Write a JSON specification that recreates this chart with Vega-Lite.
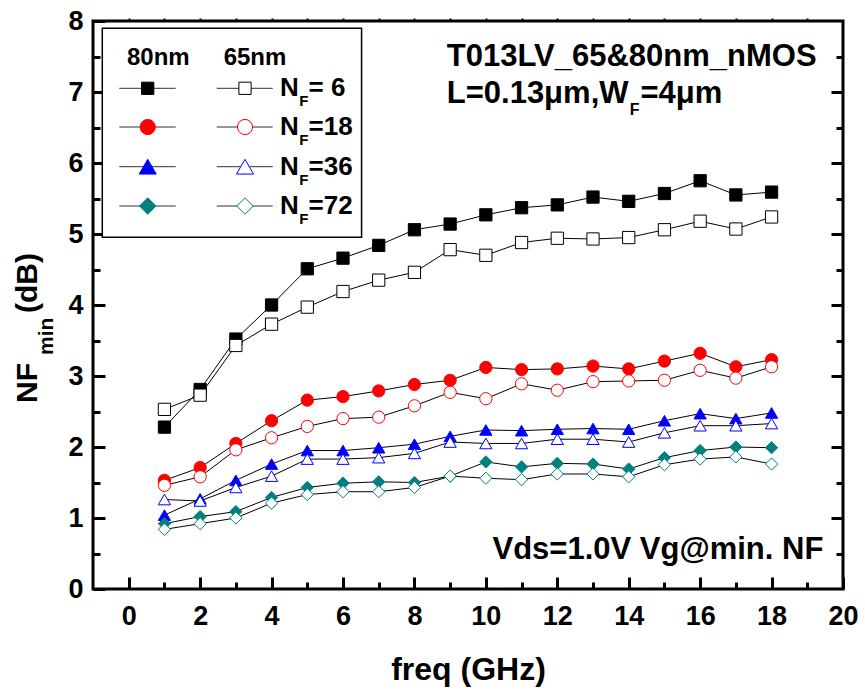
{
"$schema": "https://vega.github.io/schema/vega-lite/v6.json",
"width": 750, "height": 568,
"autosize": {"type": "none"},
"padding": {"left": 93, "top": 21, "right": 22, "bottom": 104},
"background": "white",
"config": {
  "view": {"stroke": "black", "strokeWidth": 3},
  "axis": {"domain": false, "grid": false, "tickColor": "black", "tickWidth": 3, "labelFont": "Liberation Sans", "labelFontWeight": "bold", "labelFontSize": 27, "labelColor": "black", "titleFont": "Liberation Sans", "titleFontWeight": "bold", "titleFontSize": 32, "titleColor": "black"},
  "text": {"font": "Liberation Sans", "fontWeight": "bold", "color": "black"}
},
"datasets": {
  "nf": [
    {"freq":1,"NFmin":2.28,"series":"80nm NF=6"},{"freq":2,"NFmin":2.81,"series":"80nm NF=6"},{"freq":3,"NFmin":3.52,"series":"80nm NF=6"},{"freq":4,"NFmin":4.00,"series":"80nm NF=6"},{"freq":5,"NFmin":4.51,"series":"80nm NF=6"},{"freq":6,"NFmin":4.66,"series":"80nm NF=6"},{"freq":7,"NFmin":4.84,"series":"80nm NF=6"},{"freq":8,"NFmin":5.06,"series":"80nm NF=6"},{"freq":9,"NFmin":5.14,"series":"80nm NF=6"},{"freq":10,"NFmin":5.27,"series":"80nm NF=6"},{"freq":11,"NFmin":5.37,"series":"80nm NF=6"},{"freq":12,"NFmin":5.41,"series":"80nm NF=6"},{"freq":13,"NFmin":5.52,"series":"80nm NF=6"},{"freq":14,"NFmin":5.46,"series":"80nm NF=6"},{"freq":15,"NFmin":5.57,"series":"80nm NF=6"},{"freq":16,"NFmin":5.75,"series":"80nm NF=6"},{"freq":17,"NFmin":5.55,"series":"80nm NF=6"},{"freq":18,"NFmin":5.59,"series":"80nm NF=6"},
    {"freq":1,"NFmin":2.53,"series":"65nm NF=6"},{"freq":2,"NFmin":2.73,"series":"65nm NF=6"},{"freq":3,"NFmin":3.43,"series":"65nm NF=6"},{"freq":4,"NFmin":3.73,"series":"65nm NF=6"},{"freq":5,"NFmin":3.97,"series":"65nm NF=6"},{"freq":6,"NFmin":4.19,"series":"65nm NF=6"},{"freq":7,"NFmin":4.35,"series":"65nm NF=6"},{"freq":8,"NFmin":4.46,"series":"65nm NF=6"},{"freq":9,"NFmin":4.78,"series":"65nm NF=6"},{"freq":10,"NFmin":4.70,"series":"65nm NF=6"},{"freq":11,"NFmin":4.88,"series":"65nm NF=6"},{"freq":12,"NFmin":4.94,"series":"65nm NF=6"},{"freq":13,"NFmin":4.93,"series":"65nm NF=6"},{"freq":14,"NFmin":4.95,"series":"65nm NF=6"},{"freq":15,"NFmin":5.06,"series":"65nm NF=6"},{"freq":16,"NFmin":5.18,"series":"65nm NF=6"},{"freq":17,"NFmin":5.07,"series":"65nm NF=6"},{"freq":18,"NFmin":5.24,"series":"65nm NF=6"},
    {"freq":1,"NFmin":1.53,"series":"80nm NF=18"},{"freq":2,"NFmin":1.71,"series":"80nm NF=18"},{"freq":3,"NFmin":2.05,"series":"80nm NF=18"},{"freq":4,"NFmin":2.37,"series":"80nm NF=18"},{"freq":5,"NFmin":2.66,"series":"80nm NF=18"},{"freq":6,"NFmin":2.71,"series":"80nm NF=18"},{"freq":7,"NFmin":2.79,"series":"80nm NF=18"},{"freq":8,"NFmin":2.88,"series":"80nm NF=18"},{"freq":9,"NFmin":2.94,"series":"80nm NF=18"},{"freq":10,"NFmin":3.12,"series":"80nm NF=18"},{"freq":11,"NFmin":3.09,"series":"80nm NF=18"},{"freq":12,"NFmin":3.10,"series":"80nm NF=18"},{"freq":13,"NFmin":3.14,"series":"80nm NF=18"},{"freq":14,"NFmin":3.10,"series":"80nm NF=18"},{"freq":15,"NFmin":3.21,"series":"80nm NF=18"},{"freq":16,"NFmin":3.32,"series":"80nm NF=18"},{"freq":17,"NFmin":3.13,"series":"80nm NF=18"},{"freq":18,"NFmin":3.23,"series":"80nm NF=18"},
    {"freq":1,"NFmin":1.46,"series":"65nm NF=18"},{"freq":2,"NFmin":1.58,"series":"65nm NF=18"},{"freq":3,"NFmin":1.96,"series":"65nm NF=18"},{"freq":4,"NFmin":2.13,"series":"65nm NF=18"},{"freq":5,"NFmin":2.29,"series":"65nm NF=18"},{"freq":6,"NFmin":2.40,"series":"65nm NF=18"},{"freq":7,"NFmin":2.42,"series":"65nm NF=18"},{"freq":8,"NFmin":2.58,"series":"65nm NF=18"},{"freq":9,"NFmin":2.77,"series":"65nm NF=18"},{"freq":10,"NFmin":2.68,"series":"65nm NF=18"},{"freq":11,"NFmin":2.89,"series":"65nm NF=18"},{"freq":12,"NFmin":2.80,"series":"65nm NF=18"},{"freq":13,"NFmin":2.92,"series":"65nm NF=18"},{"freq":14,"NFmin":2.93,"series":"65nm NF=18"},{"freq":15,"NFmin":2.94,"series":"65nm NF=18"},{"freq":16,"NFmin":3.08,"series":"65nm NF=18"},{"freq":17,"NFmin":2.97,"series":"65nm NF=18"},{"freq":18,"NFmin":3.13,"series":"65nm NF=18"},
    {"freq":1,"NFmin":1.04,"series":"80nm NF=36"},{"freq":2,"NFmin":1.27,"series":"80nm NF=36"},{"freq":3,"NFmin":1.53,"series":"80nm NF=36"},{"freq":4,"NFmin":1.76,"series":"80nm NF=36"},{"freq":5,"NFmin":1.95,"series":"80nm NF=36"},{"freq":6,"NFmin":1.95,"series":"80nm NF=36"},{"freq":7,"NFmin":1.99,"series":"80nm NF=36"},{"freq":8,"NFmin":2.04,"series":"80nm NF=36"},{"freq":9,"NFmin":2.15,"series":"80nm NF=36"},{"freq":10,"NFmin":2.24,"series":"80nm NF=36"},{"freq":11,"NFmin":2.23,"series":"80nm NF=36"},{"freq":12,"NFmin":2.25,"series":"80nm NF=36"},{"freq":13,"NFmin":2.26,"series":"80nm NF=36"},{"freq":14,"NFmin":2.25,"series":"80nm NF=36"},{"freq":15,"NFmin":2.37,"series":"80nm NF=36"},{"freq":16,"NFmin":2.47,"series":"80nm NF=36"},{"freq":17,"NFmin":2.40,"series":"80nm NF=36"},{"freq":18,"NFmin":2.48,"series":"80nm NF=36"},
    {"freq":1,"NFmin":1.26,"series":"65nm NF=36"},{"freq":2,"NFmin":1.24,"series":"65nm NF=36"},{"freq":3,"NFmin":1.43,"series":"65nm NF=36"},{"freq":4,"NFmin":1.59,"series":"65nm NF=36"},{"freq":5,"NFmin":1.83,"series":"65nm NF=36"},{"freq":6,"NFmin":1.83,"series":"65nm NF=36"},{"freq":7,"NFmin":1.85,"series":"65nm NF=36"},{"freq":8,"NFmin":1.91,"series":"65nm NF=36"},{"freq":9,"NFmin":2.07,"series":"65nm NF=36"},{"freq":10,"NFmin":2.05,"series":"65nm NF=36"},{"freq":11,"NFmin":2.05,"series":"65nm NF=36"},{"freq":12,"NFmin":2.11,"series":"65nm NF=36"},{"freq":13,"NFmin":2.11,"series":"65nm NF=36"},{"freq":14,"NFmin":2.07,"series":"65nm NF=36"},{"freq":15,"NFmin":2.20,"series":"65nm NF=36"},{"freq":16,"NFmin":2.30,"series":"65nm NF=36"},{"freq":17,"NFmin":2.30,"series":"65nm NF=36"},{"freq":18,"NFmin":2.33,"series":"65nm NF=36"},
    {"freq":1,"NFmin":0.92,"series":"80nm NF=72"},{"freq":2,"NFmin":1.02,"series":"80nm NF=72"},{"freq":3,"NFmin":1.09,"series":"80nm NF=72"},{"freq":4,"NFmin":1.29,"series":"80nm NF=72"},{"freq":5,"NFmin":1.43,"series":"80nm NF=72"},{"freq":6,"NFmin":1.49,"series":"80nm NF=72"},{"freq":7,"NFmin":1.51,"series":"80nm NF=72"},{"freq":8,"NFmin":1.50,"series":"80nm NF=72"},{"freq":9,"NFmin":1.59,"series":"80nm NF=72"},{"freq":10,"NFmin":1.79,"series":"80nm NF=72"},{"freq":11,"NFmin":1.72,"series":"80nm NF=72"},{"freq":12,"NFmin":1.77,"series":"80nm NF=72"},{"freq":13,"NFmin":1.76,"series":"80nm NF=72"},{"freq":14,"NFmin":1.69,"series":"80nm NF=72"},{"freq":15,"NFmin":1.85,"series":"80nm NF=72"},{"freq":16,"NFmin":1.95,"series":"80nm NF=72"},{"freq":17,"NFmin":2.00,"series":"80nm NF=72"},{"freq":18,"NFmin":1.99,"series":"80nm NF=72"},
    {"freq":1,"NFmin":0.84,"series":"65nm NF=72"},{"freq":2,"NFmin":0.92,"series":"65nm NF=72"},{"freq":3,"NFmin":1.00,"series":"65nm NF=72"},{"freq":4,"NFmin":1.21,"series":"65nm NF=72"},{"freq":5,"NFmin":1.33,"series":"65nm NF=72"},{"freq":6,"NFmin":1.37,"series":"65nm NF=72"},{"freq":7,"NFmin":1.37,"series":"65nm NF=72"},{"freq":8,"NFmin":1.43,"series":"65nm NF=72"},{"freq":9,"NFmin":1.59,"series":"65nm NF=72"},{"freq":10,"NFmin":1.56,"series":"65nm NF=72"},{"freq":11,"NFmin":1.54,"series":"65nm NF=72"},{"freq":12,"NFmin":1.62,"series":"65nm NF=72"},{"freq":13,"NFmin":1.62,"series":"65nm NF=72"},{"freq":14,"NFmin":1.58,"series":"65nm NF=72"},{"freq":15,"NFmin":1.75,"series":"65nm NF=72"},{"freq":16,"NFmin":1.83,"series":"65nm NF=72"},{"freq":17,"NFmin":1.86,"series":"65nm NF=72"},{"freq":18,"NFmin":1.76,"series":"65nm NF=72"}
  ]
},
"resolve": {"axis": {"x": "independent", "y": "independent"}},
"layer": [
  {"data": {"name": "nf"}, "mark": {"type": "line", "color": "black", "strokeWidth": 1},
   "encoding": {
     "x": {"field": "freq", "type": "quantitative", "scale": {"domain": [-1, 20], "nice": false, "zero": false},
           "axis": {"orient": "bottom", "values": [0,2,4,6,8,10,12,14,16,18,20], "tickSize": -12, "labelPadding": 26, "labelFlush": false, "labelOverlap": false, "title": "freq (GHz)", "titleBaseline": "alphabetic", "titleY": 90}},
     "y": {"field": "NFmin", "type": "quantitative", "scale": {"domain": [0, 8], "nice": false, "zero": false},
           "axis": {"orient": "left", "values": [0,1,2,3,4,5,6,7,8], "tickSize": -12, "labelPadding": 22, "labelFlush": false, "labelOverlap": false, "title": null}},
     "detail": {"field": "series", "type": "nominal"}
   }},
  {"data": {"name": "nf"}, "mark": {"type": "point", "filled": true, "opacity": 1, "strokeWidth": 1},
   "encoding": {
     "x": {"field": "freq", "type": "quantitative", "axis": {"orient": "bottom", "values": [1,3,5,7,9,11,13,15,17,19], "tickSize": -7, "labels": false, "title": null}},
     "y": {"field": "NFmin", "type": "quantitative", "axis": {"orient": "left", "values": [0.5,1.5,2.5,3.5,4.5,5.5,6.5,7.5], "tickSize": -7, "labels": false, "title": null}},
     "shape": {"field": "series", "type": "nominal", "legend": null, "scale": {"domain": ["80nm NF=6","65nm NF=6","80nm NF=18","65nm NF=18","80nm NF=36","65nm NF=36","80nm NF=72","65nm NF=72"], "range": ["square","square","circle","circle","triangle-up","triangle-up","diamond","diamond"]}},
     "fill": {"field": "series", "type": "nominal", "legend": null, "scale": {"domain": ["80nm NF=6","65nm NF=6","80nm NF=18","65nm NF=18","80nm NF=36","65nm NF=36","80nm NF=72","65nm NF=72"], "range": ["#000000","#ffffff","#ff0000","#ffffff","#0000ff","#ffffff","#008080","#ffffff"]}},
     "stroke": {"field": "series", "type": "nominal", "legend": null, "scale": {"domain": ["80nm NF=6","65nm NF=6","80nm NF=18","65nm NF=18","80nm NF=36","65nm NF=36","80nm NF=72","65nm NF=72"], "range": ["#000000","#000000","#ff0000","#ff0000","#0000ff","#0000ff","#008080","#008080"]}},
     "size": {"field": "series", "type": "ordinal", "legend": null, "scale": {"domain": ["80nm NF=6","65nm NF=6","80nm NF=18","65nm NF=18","80nm NF=36","65nm NF=36","80nm NF=72","65nm NF=72"], "range": [150,150,230,230,270,270,240,240]}}
   }},
  {"data": {"name": "nf"}, "mark": {"type": "point", "opacity": 0},
   "encoding": {
     "x": {"field": "freq", "type": "quantitative", "axis": {"orient": "top", "values": [0,1,2,3,4,5,6,7,8,9,10,11,12,13,14,15,16,17,18,19], "tickSize": 3, "tickWidth": 2, "labels": false, "title": null}},
     "y": {"field": "NFmin", "type": "quantitative", "axis": {"orient": "right", "values": [1,2,3,4,5,6,7], "tickSize": -12, "labels": false, "title": null}}
   }},
  {"data": {"name": "nf"}, "mark": {"type": "point", "opacity": 0},
   "encoding": {
     "x": {"field": "freq", "type": "quantitative", "axis": null},
     "y": {"field": "NFmin", "type": "quantitative", "axis": {"orient": "right", "values": [0.5,1.5,2.5,3.5,4.5,5.5,6.5,7.5], "tickSize": -7, "labels": false, "title": null}}
   }},

  {"data": {"values": [{}]}, "mark": {"type": "rect", "fill": "white", "stroke": "black", "strokeWidth": 1.5},
   "encoding": {"x": {"datum": -0.74, "type": "quantitative", "axis": null}, "x2": {"datum": 6.52}, "y": {"datum": 7.897, "type": "quantitative", "axis": null}, "y2": {"datum": 4.954}}},
  {"data": {"values": [{}]}, "mark": {"type": "text", "text": "80nm", "fontSize": 24, "align": "center", "baseline": "alphabetic"},
   "encoding": {"x": {"datum": 0.828, "type": "quantitative", "axis": null}, "y": {"datum": 7.38, "type": "quantitative", "axis": null}}},
  {"data": {"values": [{}]}, "mark": {"type": "text", "text": "65nm", "fontSize": 24, "align": "center", "baseline": "alphabetic"},
   "encoding": {"x": {"datum": 3.536, "type": "quantitative", "axis": null}, "y": {"datum": 7.38, "type": "quantitative", "axis": null}}},

  {"data": {"values": [{}]}, "mark": {"type": "rule", "color": "#333333", "strokeWidth": 1},
   "encoding": {"x": {"datum": -0.264, "type": "quantitative", "axis": null}, "x2": {"datum": 1.315}, "y": {"datum": 7.052, "type": "quantitative", "axis": null}}},
  {"data": {"values": [{}]}, "mark": {"type": "rule", "color": "#333333", "strokeWidth": 1},
   "encoding": {"x": {"datum": 2.464, "type": "quantitative", "axis": null}, "x2": {"datum": 4.032}, "y": {"datum": 7.052, "type": "quantitative", "axis": null}}},
  {"data": {"values": [{}]}, "mark": {"type": "rule", "color": "#333333", "strokeWidth": 1},
   "encoding": {"x": {"datum": -0.264, "type": "quantitative", "axis": null}, "x2": {"datum": 1.315}, "y": {"datum": 6.507, "type": "quantitative", "axis": null}}},
  {"data": {"values": [{}]}, "mark": {"type": "rule", "color": "#333333", "strokeWidth": 1},
   "encoding": {"x": {"datum": 2.464, "type": "quantitative", "axis": null}, "x2": {"datum": 4.032}, "y": {"datum": 6.507, "type": "quantitative", "axis": null}}},
  {"data": {"values": [{}]}, "mark": {"type": "rule", "color": "#333333", "strokeWidth": 1},
   "encoding": {"x": {"datum": -0.264, "type": "quantitative", "axis": null}, "x2": {"datum": 1.315}, "y": {"datum": 5.948, "type": "quantitative", "axis": null}}},
  {"data": {"values": [{}]}, "mark": {"type": "rule", "color": "#333333", "strokeWidth": 1},
   "encoding": {"x": {"datum": 2.464, "type": "quantitative", "axis": null}, "x2": {"datum": 4.032}, "y": {"datum": 5.948, "type": "quantitative", "axis": null}}},
  {"data": {"values": [{}]}, "mark": {"type": "rule", "color": "#333333", "strokeWidth": 1},
   "encoding": {"x": {"datum": -0.264, "type": "quantitative", "axis": null}, "x2": {"datum": 1.315}, "y": {"datum": 5.394, "type": "quantitative", "axis": null}}},
  {"data": {"values": [{}]}, "mark": {"type": "rule", "color": "#333333", "strokeWidth": 1},
   "encoding": {"x": {"datum": 2.464, "type": "quantitative", "axis": null}, "x2": {"datum": 4.032}, "y": {"datum": 5.394, "type": "quantitative", "axis": null}}},

  {"data": {"values": [{}]}, "mark": {"type": "point", "shape": "square", "filled": true, "fill": "#000000", "stroke": "#000000", "strokeWidth": 1, "size": 150, "opacity": 1},
   "encoding": {"x": {"datum": 0.532, "type": "quantitative", "axis": null}, "y": {"datum": 7.052, "type": "quantitative", "axis": null}}},
  {"data": {"values": [{}]}, "mark": {"type": "point", "shape": "square", "filled": true, "fill": "#ffffff", "stroke": "#000000", "strokeWidth": 1, "size": 150, "opacity": 1},
   "encoding": {"x": {"datum": 3.256, "type": "quantitative", "axis": null}, "y": {"datum": 7.052, "type": "quantitative", "axis": null}}},
  {"data": {"values": [{}]}, "mark": {"type": "point", "shape": "circle", "filled": true, "fill": "#ff0000", "stroke": "#ff0000", "strokeWidth": 1, "size": 230, "opacity": 1},
   "encoding": {"x": {"datum": 0.532, "type": "quantitative", "axis": null}, "y": {"datum": 6.507, "type": "quantitative", "axis": null}}},
  {"data": {"values": [{}]}, "mark": {"type": "point", "shape": "circle", "filled": true, "fill": "#ffffff", "stroke": "#ff0000", "strokeWidth": 1, "size": 230, "opacity": 1},
   "encoding": {"x": {"datum": 3.256, "type": "quantitative", "axis": null}, "y": {"datum": 6.507, "type": "quantitative", "axis": null}}},
  {"data": {"values": [{}]}, "mark": {"type": "point", "shape": "triangle-up", "filled": true, "fill": "#0000ff", "stroke": "#0000ff", "strokeWidth": 1, "size": 290, "opacity": 1},
   "encoding": {"x": {"datum": 0.532, "type": "quantitative", "axis": null}, "y": {"datum": 5.948, "type": "quantitative", "axis": null}}},
  {"data": {"values": [{}]}, "mark": {"type": "point", "shape": "triangle-up", "filled": true, "fill": "#ffffff", "stroke": "#0000ff", "strokeWidth": 1, "size": 290, "opacity": 1},
   "encoding": {"x": {"datum": 3.256, "type": "quantitative", "axis": null}, "y": {"datum": 5.948, "type": "quantitative", "axis": null}}},
  {"data": {"values": [{}]}, "mark": {"type": "point", "shape": "diamond", "filled": true, "fill": "#008080", "stroke": "#008080", "strokeWidth": 1, "size": 270, "opacity": 1},
   "encoding": {"x": {"datum": 0.532, "type": "quantitative", "axis": null}, "y": {"datum": 5.394, "type": "quantitative", "axis": null}}},
  {"data": {"values": [{}]}, "mark": {"type": "point", "shape": "diamond", "filled": true, "fill": "#ffffff", "stroke": "#008080", "strokeWidth": 1, "size": 270, "opacity": 1},
   "encoding": {"x": {"datum": 3.256, "type": "quantitative", "axis": null}, "y": {"datum": 5.394, "type": "quantitative", "axis": null}}},

  {"data": {"values": [{}]}, "mark": {"type": "text", "text": "N", "fontSize": 26, "align": "left", "baseline": "alphabetic"},
   "encoding": {"x": {"datum": 4.236, "type": "quantitative", "axis": null}, "y": {"datum": 6.94, "type": "quantitative", "axis": null}}},
  {"data": {"values": [{}]}, "mark": {"type": "text", "text": "F", "fontSize": 15, "align": "left", "baseline": "alphabetic"},
   "encoding": {"x": {"datum": 4.775, "type": "quantitative", "axis": null}, "y": {"datum": 6.799, "type": "quantitative", "axis": null}}},
  {"data": {"values": [{}]}, "mark": {"type": "text", "text": "= 6", "fontSize": 26, "align": "left", "baseline": "alphabetic"},
   "encoding": {"x": {"datum": 5.035, "type": "quantitative", "axis": null}, "y": {"datum": 6.94, "type": "quantitative", "axis": null}}},
  {"data": {"values": [{}]}, "mark": {"type": "text", "text": "N", "fontSize": 26, "align": "left", "baseline": "alphabetic"},
   "encoding": {"x": {"datum": 4.236, "type": "quantitative", "axis": null}, "y": {"datum": 6.394, "type": "quantitative", "axis": null}}},
  {"data": {"values": [{}]}, "mark": {"type": "text", "text": "F", "fontSize": 15, "align": "left", "baseline": "alphabetic"},
   "encoding": {"x": {"datum": 4.775, "type": "quantitative", "axis": null}, "y": {"datum": 6.253, "type": "quantitative", "axis": null}}},
  {"data": {"values": [{}]}, "mark": {"type": "text", "text": "=18", "fontSize": 26, "align": "left", "baseline": "alphabetic"},
   "encoding": {"x": {"datum": 5.035, "type": "quantitative", "axis": null}, "y": {"datum": 6.394, "type": "quantitative", "axis": null}}},
  {"data": {"values": [{}]}, "mark": {"type": "text", "text": "N", "fontSize": 26, "align": "left", "baseline": "alphabetic"},
   "encoding": {"x": {"datum": 4.236, "type": "quantitative", "axis": null}, "y": {"datum": 5.835, "type": "quantitative", "axis": null}}},
  {"data": {"values": [{}]}, "mark": {"type": "text", "text": "F", "fontSize": 15, "align": "left", "baseline": "alphabetic"},
   "encoding": {"x": {"datum": 4.775, "type": "quantitative", "axis": null}, "y": {"datum": 5.694, "type": "quantitative", "axis": null}}},
  {"data": {"values": [{}]}, "mark": {"type": "text", "text": "=36", "fontSize": 26, "align": "left", "baseline": "alphabetic"},
   "encoding": {"x": {"datum": 5.035, "type": "quantitative", "axis": null}, "y": {"datum": 5.835, "type": "quantitative", "axis": null}}},
  {"data": {"values": [{}]}, "mark": {"type": "text", "text": "N", "fontSize": 26, "align": "left", "baseline": "alphabetic"},
   "encoding": {"x": {"datum": 4.236, "type": "quantitative", "axis": null}, "y": {"datum": 5.281, "type": "quantitative", "axis": null}}},
  {"data": {"values": [{}]}, "mark": {"type": "text", "text": "F", "fontSize": 15, "align": "left", "baseline": "alphabetic"},
   "encoding": {"x": {"datum": 4.775, "type": "quantitative", "axis": null}, "y": {"datum": 5.14, "type": "quantitative", "axis": null}}},
  {"data": {"values": [{}]}, "mark": {"type": "text", "text": "=72", "fontSize": 26, "align": "left", "baseline": "alphabetic"},
   "encoding": {"x": {"datum": 5.035, "type": "quantitative", "axis": null}, "y": {"datum": 5.281, "type": "quantitative", "axis": null}}},

  {"data": {"values": [{}]}, "mark": {"type": "text", "text": "T013LV_65&80nm_nMOS", "fontSize": 31, "align": "left", "baseline": "alphabetic"},
   "encoding": {"x": {"datum": 8.905, "type": "quantitative", "axis": null}, "y": {"datum": 7.366, "type": "quantitative", "axis": null}}},
  {"data": {"values": [{}]}, "mark": {"type": "text", "text": "L=0.13μm,W", "fontSize": 31, "align": "left", "baseline": "alphabetic"},
   "encoding": {"x": {"datum": 8.905, "type": "quantitative", "axis": null}, "y": {"datum": 6.84, "type": "quantitative", "axis": null}}},
  {"data": {"values": [{}]}, "mark": {"type": "text", "text": "F", "fontSize": 16, "align": "left", "baseline": "alphabetic"},
   "encoding": {"x": {"datum": 14.03, "type": "quantitative", "axis": null}, "y": {"datum": 6.676, "type": "quantitative", "axis": null}}},
  {"data": {"values": [{}]}, "mark": {"type": "text", "text": "=4μm", "fontSize": 31, "align": "left", "baseline": "alphabetic"},
   "encoding": {"x": {"datum": 14.33, "type": "quantitative", "axis": null}, "y": {"datum": 6.84, "type": "quantitative", "axis": null}}},
  {"data": {"values": [{}]}, "mark": {"type": "text", "text": "Vds=1.0V Vg@min. NF", "fontSize": 31, "align": "right", "baseline": "alphabetic"},
   "encoding": {"x": {"datum": 19.449, "type": "quantitative", "axis": null}, "y": {"datum": 0.418, "type": "quantitative", "axis": null}}},

  {"data": {"values": [{}]}, "mark": {"type": "text", "text": "NF", "fontSize": 30, "angle": 270, "align": "left", "baseline": "alphabetic"},
   "encoding": {"x": {"datum": -2.568, "type": "quantitative", "axis": null}, "y": {"datum": 2.62, "type": "quantitative", "axis": null}}},
  {"data": {"values": [{}]}, "mark": {"type": "text", "text": "min", "fontSize": 21, "angle": 270, "align": "left", "baseline": "alphabetic"},
   "encoding": {"x": {"datum": -2.12, "type": "quantitative", "axis": null}, "y": {"datum": 3.296, "type": "quantitative", "axis": null}}},
  {"data": {"values": [{}]}, "mark": {"type": "text", "text": "(dB)", "fontSize": 30, "angle": 270, "align": "left", "baseline": "alphabetic"},
   "encoding": {"x": {"datum": -2.568, "type": "quantitative", "axis": null}, "y": {"datum": 3.887, "type": "quantitative", "axis": null}}}
]
}
